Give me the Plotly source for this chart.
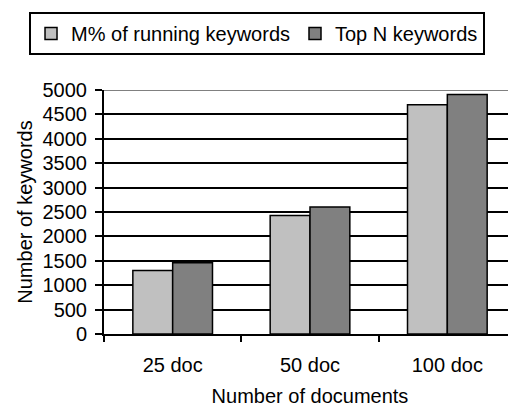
import plotly.graph_objects as go

categories = ["25 doc", "50 doc", "100 doc"]
m_percent = [1300, 2430, 4700]
top_n = [1460, 2600, 4910]
y_ticks = [0, 500, 1000, 1500, 2000, 2500, 3000, 3500, 4000, 4500, 5000]

FONT = "Liberation Sans, Arial, sans-serif"

fig = go.Figure()
fig.add_trace(go.Bar(x=categories, y=m_percent, name="M% of running keywords",
                     marker=dict(color="#C0C0C0", line=dict(color="black", width=1.5))))
fig.add_trace(go.Bar(x=categories, y=top_n, name="Top N keywords",
                     marker=dict(color="#808080", line=dict(color="black", width=1.5))))

fig.update_layout(
    width=516, height=409,
    margin=dict(l=96, r=8, t=82, b=83, autoexpand=False),
    paper_bgcolor="white", plot_bgcolor="white",
    font=dict(family=FONT, size=20, color="black"),
    barmode="group", bargap=0.42, bargroupgap=0,
    legend=dict(orientation="h",
                x=-0.182, xanchor="left", y=1.32, yanchor="top",
                bordercolor="black", borderwidth=2, font=dict(size=20),
                itemwidth=30, tracegroupgap=0),
    xaxis=dict(title=dict(text="Number of documents", standoff=14, font=dict(size=20)),
               automargin=False, ticklabelstandoff=12,
               showline=True, linecolor="black", linewidth=2,
               ticks="outside", tickson="boundaries", ticklen=6, tickwidth=2, tickcolor="black",
               showgrid=False),
    yaxis=dict(title=dict(text="Number of keywords", standoff=5, font=dict(size=20)),
               automargin=False, ticklabelstandoff=4,
               range=[0, 5000], tickvals=y_ticks,
               showline=True, linecolor="black", linewidth=2,
               ticks="outside", ticklen=7, tickwidth=2, tickcolor="black",
               showgrid=True, gridcolor="black", gridwidth=1.5, zeroline=False),
    shapes=[dict(type="line", xref="paper", yref="y", x0=0, x1=1, y0=5000, y1=5000,
                 line=dict(color="#808080", width=2), layer="above")],
)

fig.write_html("out.html")
